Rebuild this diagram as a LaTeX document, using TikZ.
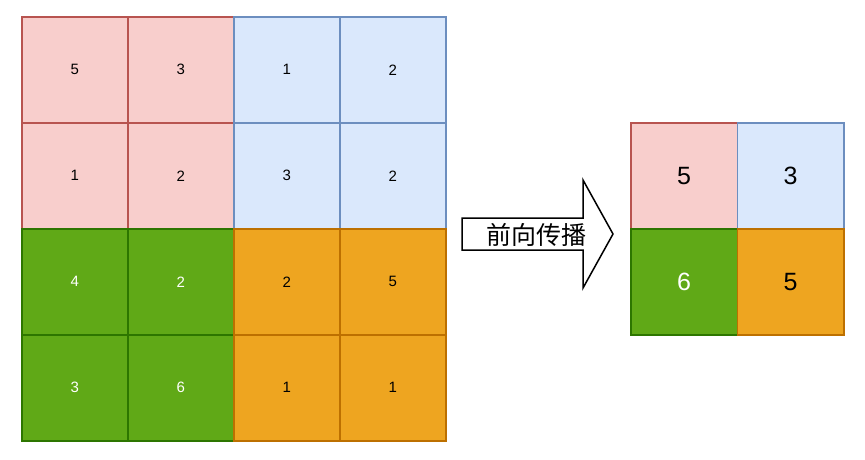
\documentclass[tikz,border=0pt]{standalone}
\usepackage{fontspec}
\setmainfont{Liberation Sans}
\newfontfamily\cjk{Noto Sans CJK SC}
\definecolor{pinkF}{HTML}{F8CECC}\definecolor{pinkD}{HTML}{B85450}
\definecolor{blueF}{HTML}{DAE8FC}\definecolor{blueD}{HTML}{6C8EBF}
\definecolor{greenF}{HTML}{60A917}\definecolor{greenD}{HTML}{2D7600}
\definecolor{orangeF}{HTML}{EEA520}\definecolor{orangeD}{HTML}{BD7000}
\begin{document}
\begin{tikzpicture}[x=1pt,y=-1pt,
  cell/.style={minimum width=106pt,minimum height=106pt,inner sep=0pt,line width=1.6pt,anchor=north west,font=\fontsize{15}{17}\selectfont},
  big/.style={cell,minimum width=106.5pt,font=\fontsize{25}{28}\selectfont},
  pk/.style={fill=pinkF,draw=pinkD,text=black},
  bl/.style={fill=blueF,draw=blueD,text=black},
  gr/.style={fill=greenF,draw=greenD,text=white},
  og/.style={fill=orangeF,draw=orangeD,text=black},
  arrowbody/.style={draw=black,fill=white,line width=1.5pt,line join=miter}]
\useasboundingbox (0,0) rectangle (865,460);
% left grid
\node[cell,pk] (a11) at (21,16) {5};
\node[cell,pk] (a12) at (127,16) {3};
\node[cell,bl] (a13) at (233,16) {1};
\node[cell,bl] (a14) at (339,16) {2};
\node[cell,pk] (a21) at (21,122) {1};
\node[cell,pk] (a22) at (127,122) {2};
\node[cell,bl] (a23) at (233,122) {3};
\node[cell,bl] (a24) at (339,122) {2};
\node[cell,gr] (a31) at (21,228) {4};
\node[cell,gr] (a32) at (127,228) {2};
\node[cell,og] (a33) at (233,228) {2};
\node[cell,og] (a34) at (339,228) {5};
\node[cell,gr] (a41) at (21,334) {3};
\node[cell,gr] (a42) at (127,334) {6};
\node[cell,og] (a43) at (233,334) {1};
\node[cell,og] (a44) at (339,334) {1};
% right grid
\node[big,pk] (b11) at (630,122) {5};
\node[big,bl] (b12) at (736.5,122) {3};
\node[big,gr] (b21) at (630,228) {6};
\node[big,og] (b22) at (736.5,228) {5};
% arrow
\draw[arrowbody] (462,218) -- (583,218) -- (583,180) -- (613,234) -- (583,288) -- (583,250) -- (462,250) -- cycle;
\node[font=\cjk\fontsize{25}{28}\selectfont,inner sep=0pt] (lbl) at (536,235) {前向传播};
\end{tikzpicture}
\end{document}
